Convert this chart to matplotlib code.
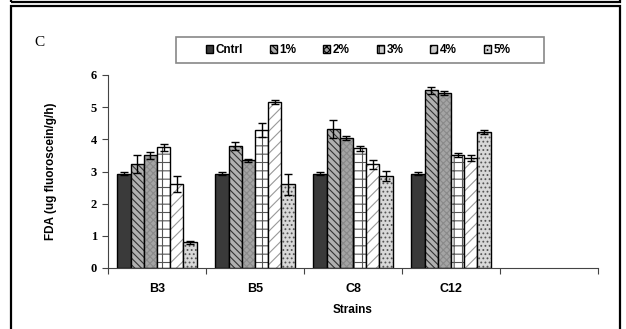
import matplotlib.pyplot as plt
import numpy as np
from matplotlib.patches import Rectangle

# Data
strains = ['B3', 'B5', 'C8', 'C12']
levels = ['Cntrl', '1%', '2%', '3%', '4%', '5%']

cntrl = [2.93, 2.93, 2.93, 2.93]
p1 = [3.22, 3.80, 4.33, 5.52]
p2 = [3.50, 3.35, 4.05, 5.44]
p3 = [3.75, 4.28, 3.72, 3.52]
p4 = [2.62, 5.15, 3.22, 3.43]
p5 = [0.80, 2.60, 2.86, 4.24]

cntrl_err = [0.05, 0.05, 0.05, 0.05]
p1_err = [0.28, 0.12, 0.28, 0.12]
p2_err = [0.12, 0.05, 0.06, 0.06]
p3_err = [0.12, 0.22, 0.07, 0.07]
p4_err = [0.25, 0.06, 0.13, 0.09]
p5_err = [0.05, 0.32, 0.17, 0.06]

values = [cntrl, p1, p2, p3, p4, p5]
errors = [cntrl_err, p1_err, p2_err, p3_err, p4_err, p5_err]

# face colour, hatch, hatch colour
styles = [('#3a3a3a', '', '#3a3a3a'),
          ('#b0b0b0', '\\\\\\\\\\', '#333333'),
          ('#a4a4a4', 'xxxxx', '#8a8a8a'),
          ('white', '++', '#555555'),
          ('white', '///', '#999999'),
          ('#d8d8d8', '....', '#555555')]

plt.rcParams['hatch.linewidth'] = 0.8

fig = plt.figure(figsize=(6.26, 3.29), dpi=100)

# outer frames
fig.patches.append(Rectangle((11/626, 1 - 2/329), 609/626, 0.05, transform=fig.transFigure,
                             fill=False, edgecolor='black', linewidth=1.6))
fig.patches.append(Rectangle((11/626, -0.05), 609/626, 1 - 6/329 + 0.05, transform=fig.transFigure,
                             fill=False, edgecolor='black', linewidth=1.6))
# legend box
fig.patches.append(Rectangle((176/626, 1 - 63/329), 368/626, 26/329, transform=fig.transFigure,
                             fill=False, edgecolor='#888888', linewidth=1.2))

ax = fig.add_axes([108/626, 1 - 268/329, 490/626, 193/329])

x = np.arange(len(strains))
w = 0.135
for i in range(len(levels)):
    fc, hatch, hc = styles[i]
    pos = x + (i - 2.5) * w
    plt.rcParams['hatch.color'] = hc
    ax.bar(pos, values[i], w, color=fc, hatch=hatch, edgecolor=hc, linewidth=0)
    ax.bar(pos, values[i], w, facecolor='none', edgecolor='black', linewidth=1.0,
           label=levels[i])
    ax.errorbar(pos, values[i], yerr=errors[i], fmt='none', ecolor='black',
                elinewidth=1.0, capsize=3, capthick=1.0)

ax.set_xlim(-0.5, 4.5)
ax.set_ylim(0, 6)
ax.set_yticks(range(0, 7))
ax.set_yticklabels([str(v) for v in range(0, 7)], fontfamily='Liberation Serif',
                   fontweight='bold', fontsize=9)
ax.set_xticks(np.arange(-0.5, 5.0, 1.0))
ax.set_xticklabels([])
ax.set_xticks(x, minor=True)
ax.set_xticklabels(strains, minor=True, fontfamily='Liberation Sans', fontweight='bold', fontsize=9)
ax.tick_params(axis='x', which='minor', length=0, pad=11)
ax.tick_params(axis='x', which='major', length=4, direction='out', color='#444444')
ax.tick_params(axis='y', length=4, direction='out', color='#444444', pad=4)
for s in ['top', 'right']:
    ax.spines[s].set_visible(False)
for s in ['left', 'bottom']:
    ax.spines[s].set_color('#444444')

ax.set_xlabel('Strains', fontfamily='Liberation Sans', fontweight='bold', fontsize=8.5, labelpad=6)
ax.set_ylabel('FDA (ug fluoroscein/g/h)', fontfamily='Liberation Sans', fontweight='bold',
              fontsize=8.5, labelpad=24)

fig.text(34/626, 1 - 43/329, 'C', fontfamily='Liberation Serif', fontsize=11, va='center')

handles, labels = ax.get_legend_handles_labels()
leg = fig.legend(handles[:6], labels[:6], ncol=6, loc='center',
                 bbox_to_anchor=(358/626, 1 - 50/329),
                 frameon=False, handlelength=0.6, handleheight=0.6,
                 handletextpad=0.2, columnspacing=2.3,
                 prop={'family': 'Liberation Sans', 'weight': 'bold', 'size': 8.5})

# give legend patches the hatch styles
for patch, (fc, hatch, hc) in zip(leg.get_patches(), styles):
    patch.set_facecolor(fc if fc != 'white' else '#cccccc')
    patch.set_hatch(hatch)

fig.savefig('out.png', dpi=100)
